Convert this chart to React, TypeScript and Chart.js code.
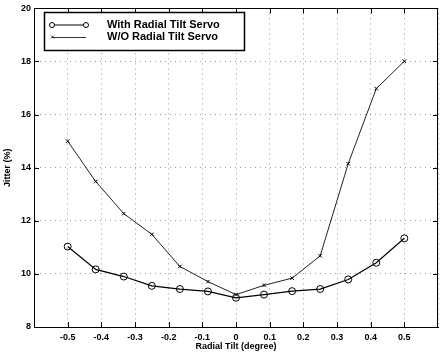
import React, { useEffect, useRef } from "react";
import { Chart, registerables } from "chart.js";

Chart.register(...registerables);

const tiltDeg = [-0.5, -0.4167, -0.3333, -0.25, -0.1667, -0.0833, 0, 0.0833, 0.1667, 0.25, 0.3333, 0.4167, 0.5];
const withServo = [11.03, 10.17, 9.9, 9.55, 9.43, 9.34, 9.1, 9.22, 9.35, 9.43, 9.79, 10.42, 11.34];
const withoutServo = [15.0, 13.48, 12.27, 11.49, 10.28, 9.71, 9.22, 9.57, 9.84, 10.68, 14.15, 16.98, 18.01];
const xTicks = [-0.5, -0.4, -0.3, -0.2, -0.1, 0, 0.1, 0.2, 0.3, 0.4, 0.5];
const yTicks = [8, 10, 12, 14, 16, 18, 20];
const seriesNames = ["With Radial Tilt Servo", "W/O Radial Tilt Servo"];
const xTitle = "Radial Tilt (degree)";
const yTitle = "Jitter (%)";

const FONT = "'Liberation Sans', Arial, sans-serif";

const decorPlugin = {
  id: "decor",
  afterDraw(chart: any) {
    const ctx = chart.ctx;
    const area = chart.chartArea;
    const xs = chart.scales.x;
    const ys = chart.scales.y;
    ctx.save();
    ctx.strokeStyle = "#000";
    ctx.lineWidth = 1;
    ctx.beginPath();
    xTicks.forEach((v) => {
      const px = Math.round(xs.getPixelForValue(v)) + 0.5;
      ctx.moveTo(px, area.bottom);
      ctx.lineTo(px, area.bottom - 5);
      ctx.moveTo(px, area.top);
      ctx.lineTo(px, area.top + 5);
    });
    yTicks.forEach((v) => {
      const py = Math.round(ys.getPixelForValue(v)) + 0.5;
      ctx.moveTo(area.left, py);
      ctx.lineTo(area.left + 5, py);
      ctx.moveTo(area.right, py);
      ctx.lineTo(area.right - 5, py);
    });
    ctx.stroke();
    ctx.strokeRect(Math.round(area.left) + 0.5, Math.round(area.top) + 0.5, Math.round(area.right - area.left) - 1, Math.round(area.bottom - area.top));

    ctx.fillStyle = "#000";
    ctx.font = `bold 9px ${FONT}`;
    ctx.textAlign = "center";
    ctx.textBaseline = "middle";
    ctx.fillText(xTitle, (area.left + area.right) / 2, 347);
    ctx.save();
    ctx.translate(8, (area.top + area.bottom) / 2);
    ctx.rotate(-Math.PI / 2);
    ctx.fillText(yTitle, 0, 0);
    ctx.restore();

    const lx = 44, ly = 12, lw = 200, lh = 38;
    ctx.fillStyle = "#fff";
    ctx.fillRect(lx, ly, lw, lh);
    ctx.strokeStyle = "#000";
    ctx.lineWidth = 1.5;
    ctx.strokeRect(lx + 0.5, ly + 0.5, lw, lh);
    ctx.lineWidth = 1;
    const y1 = 25, y2 = 37;
    ctx.beginPath();
    ctx.moveTo(52, y1);
    ctx.lineTo(86, y1);
    ctx.stroke();
    [52, 86].forEach((cx) => {
      ctx.beginPath();
      ctx.arc(cx, y1, 2.5, 0, Math.PI * 2);
      ctx.fillStyle = "#fff";
      ctx.fill();
      ctx.stroke();
    });
    ctx.strokeStyle = "#333";
    ctx.beginPath();
    ctx.moveTo(52, y2 + 0.5);
    ctx.lineTo(86, y2 + 0.5);
    ctx.stroke();
    ctx.beginPath();
    ctx.moveTo(51, y2 - 1.5);
    ctx.lineTo(54, y2 + 1.5);
    ctx.moveTo(51, y2 + 1.5);
    ctx.lineTo(54, y2 - 1.5);
    ctx.stroke();
    ctx.fillStyle = "#000";
    ctx.font = `bold 11px ${FONT}`;
    ctx.textAlign = "left";
    ctx.fillText(seriesNames[0], 107, y1);
    ctx.fillText(seriesNames[1], 107, y2);
    ctx.restore();
  },
};

export default function App() {
  const ref = useRef<HTMLCanvasElement>(null);
  useEffect(() => {
    if (!ref.current) return;
    const chart = new Chart(ref.current, {
      type: "line",
      data: {
        datasets: [
          {
            label: seriesNames[0],
            data: tiltDeg.map((x, i) => ({ x, y: withServo[i] })),
            borderColor: "#000",
            borderWidth: 1.2,
            pointStyle: "circle",
            pointRadius: 3.5,
            pointBackgroundColor: "rgba(255,255,255,0)",
            pointBorderColor: "#000",
            pointBorderWidth: 1,
            tension: 0,
          },
          {
            label: seriesNames[1],
            data: tiltDeg.map((x, i) => ({ x, y: withoutServo[i] })),
            borderColor: "#222",
            borderWidth: 1,
            pointStyle: "cross",
            rotation: 45,
            pointRadius: 2.5,
            pointBorderColor: "#000",
            pointBorderWidth: 1,
            tension: 0,
          },
        ],
      },
      options: {
        animation: false,
        responsive: false,
        maintainAspectRatio: false,
        layout: { padding: { top: 5, right: 2, left: 0, bottom: 0 } },
        plugins: { legend: { display: false }, tooltip: { enabled: false } },
        scales: {
          x: {
            type: "linear",
            min: -0.6,
            max: 0.6,
            afterFit: (s: any) => { s.height = 30; },
            afterBuildTicks: (s: any) => { s.ticks = [-0.6, ...xTicks, 0.6].map((v) => ({ value: v })); },
            ticks: {
              padding: 5,
              color: "#000",
              font: { family: FONT, size: 9, weight: "bold" },
              callback: (v: any) => {
                const r = Math.round(Number(v) * 10) / 10;
                if (Math.abs(r) > 0.55) return "";
                return r === 0 ? "0" : String(r);
              },
              maxRotation: 0,
              autoSkip: false,
            },
            grid: { color: "#999", lineWidth: 1, drawTicks: false },
            border: { display: true, color: "#000", dash: [1, 4] },
          } as any,
          y: {
            type: "linear",
            min: 8,
            max: 20,
            afterFit: (s: any) => { s.width = 34; },
            afterBuildTicks: (s: any) => { s.ticks = yTicks.map((v) => ({ value: v })); },
            ticks: {
              padding: 3,
              color: "#000",
              font: { family: FONT, size: 9, weight: "bold" },
              callback: (v: any) => String(v),
            },
            grid: { color: "#999", lineWidth: 1, drawTicks: false },
            border: { display: true, color: "#000", dash: [1, 4] },
          } as any,
        },
      },
      plugins: [decorPlugin],
    });
    return () => chart.destroy();
  }, []);
  return (
    <div style={{ position: "fixed", left: 0, top: 0, width: 443, height: 357, background: "#fff" }}>
      <canvas ref={ref} width={443} height={357} style={{ width: 443, height: 357 }} />
    </div>
  );
}
